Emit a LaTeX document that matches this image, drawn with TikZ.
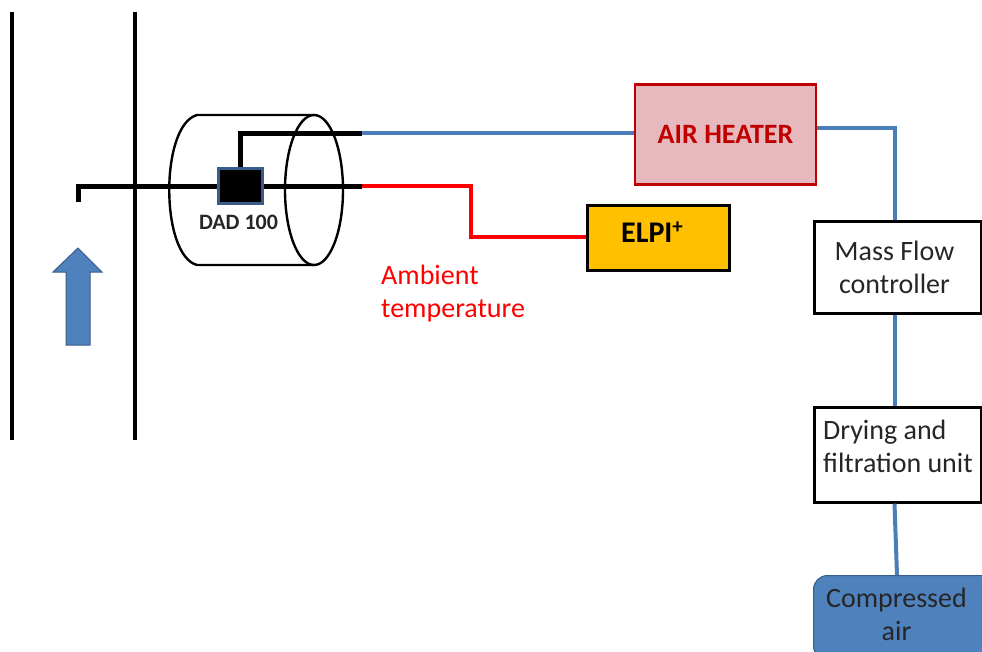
\documentclass[tikz,border=0pt]{standalone}
\usepackage{fontspec}
\setmainfont{Carlito}
\usetikzlibrary{calc}
\definecolor{pipeblue}{HTML}{4A7EBB}
\definecolor{boxblue}{HTML}{4F81BD}
\definecolor{heatred}{HTML}{C00000}
\definecolor{heatfill}{HTML}{E6B9BE}
\definecolor{elpifill}{HTML}{FFC000}
\definecolor{dadedge}{HTML}{385D8A}
\tikzset{
  x=1pt,y=-1pt,
  blockbox/.style={draw=black,line width=3.2pt,fill=white,inner sep=0pt,anchor=north west},
  textlabel/.style={font=\fontsize{28}{33}\selectfont,text=black!85,inner sep=0pt},
  bluepipe/.style={draw=pipeblue,line width=4pt},
  redpipe/.style={draw=red,line width=4pt},
  blackpipe/.style={draw=black,line width=5pt},
  wall/.style={draw=black,line width=4pt},
  shell/.style={draw=black,line width=2.4pt}
}
\begin{document}
\begin{tikzpicture}
\useasboundingbox[fill=white] (0,0) rectangle (982,651);
% walls
\coordinate (w1a) at (12,12); \coordinate (w1b) at (12,440);
\coordinate (w2a) at (135,12); \coordinate (w2b) at (135,440);
\draw[wall] (w1a) -- (w1b);
\draw[wall] (w2a) -- (w2b);
% flow arrow
\path[fill=boxblue,draw=dadedge,line width=1pt] (66,345) -- (66,272) -- (53,272) -- (78,248) -- (102,272) -- (90,272) -- (90,345) -- cycle;
% cylinder
\draw[shell] (314,115) -- (197,115) .. controls (160,125) and (160,255) .. (197,265) -- (314,265);
\draw[shell] (314,190) ellipse [x radius=29,y radius=75];
% junctions
\coordinate (inlet) at (78,202);
\coordinate (inletc) at (78,186);
\coordinate (topc) at (240,133);
\coordinate (topend) at (362,133);
\coordinate (midend) at (362,186);
\coordinate (redbend1) at (471,186);
\coordinate (redbend2) at (471,237);
\coordinate (heatbend) at (894.5,128);
% nodes
\node[draw=dadedge,fill=black,line width=2.2pt,minimum width=44pt,minimum height=35pt,inner sep=0pt] (dad) at (240.5,186) {};
\node[font=\bfseries\fontsize{22}{24}\selectfont,text=black!85,inner sep=0pt] (dadlabel) at (238.5,222) {DAD 100};
\node[draw=heatred,fill=heatfill,line width=2.8pt,minimum width=181pt,minimum height=100pt,inner sep=0pt,font=\bfseries\fontsize{28}{30}\selectfont,text=heatred] (heater) at (725.5,134.5) {AIR HEATER};
\node[draw=black,fill=elpifill,line width=3pt,minimum width=142pt,minimum height=65pt,inner sep=0pt] (elpi) at (658.5,237.5) {};
\node[font=\bfseries\fontsize{30}{32}\selectfont,text=black,anchor=west,inner sep=0pt] (elpilabel) at (621,232.5) {ELPI\textsuperscript{+}};
\node[blockbox,minimum width=167pt,minimum height=92pt] (mass) at (813,220) {};
\node[textlabel,align=center] (masslabel) at (894.5,267.5) {Mass Flow\\controller};
\node[blockbox,minimum width=167pt,minimum height=95pt] (dry) at (813,405.5) {};
\node[textlabel,align=left,anchor=north west] (drylabel) at (823,419.5) {Drying and\\filtration unit};
\path[fill=boxblue,draw=dadedge,line width=1pt,rounded corners=14pt] (813.5,660) -- (813.5,575.5) -- (1000,575.5) -- (1000,660) -- cycle;
\coordinate (air) at (897,575);
\node[textlabel,align=center] (airlabel) at (896.5,614.5) {Compressed\\air};
\node[textlabel,text=red,align=left,anchor=north west] (amb) at (381,265) {Ambient\\temperature};
% connectors
\draw[blackpipe] (inlet) -- (inletc) -- (dad.west);
\draw[blackpipe] (dad.east) -- (midend);
\draw[blackpipe] (dad.north-|topc) -- (topc) -- (topend);
\draw[bluepipe] (topend) -- (heater.west|-topend);
\draw[redpipe] (midend) -- (redbend1) -- (redbend2) -- (elpi.west|-redbend2);
\draw[bluepipe] (heater.east|-heatbend) -- (heatbend) -- (mass.north-|heatbend);
\draw[bluepipe] (mass.south-|heatbend) -- (dry.north-|heatbend);
\draw[bluepipe] (dry.south-|heatbend) -- (air);
\end{tikzpicture}
\end{document}
